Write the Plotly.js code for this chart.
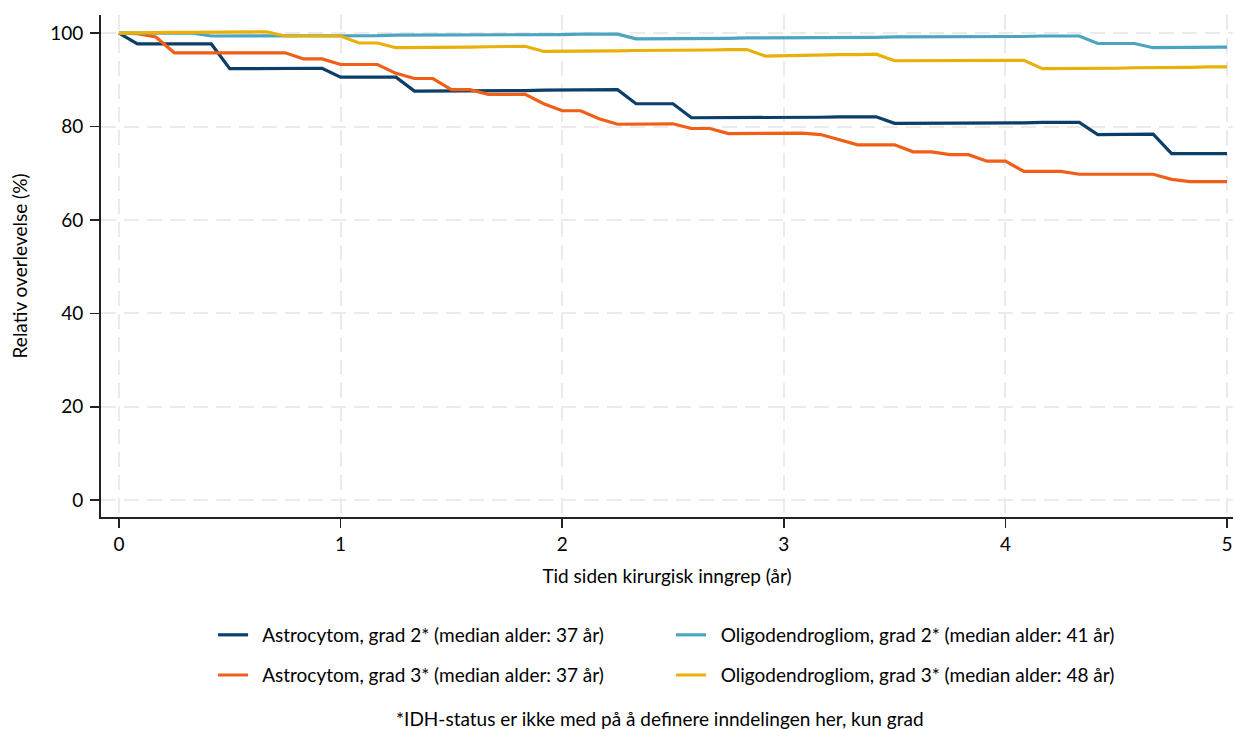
<!DOCTYPE html>
<html>
<head>
<meta charset="utf-8">
<script src="https://cdn.plot.ly/plotly-3.0.1.min.js"></script>
<style>
  html, body { margin: 0; padding: 0; background: #ffffff; }
  #chart { width: 1234px; height: 729px; }
</style>
</head>
<body>
<div id="chart"></div>
<script>
// Months since surgery (0 to 60), plotted in years
const months = [0,1,2,3,4,5,6,7,8,9,10,11,12,13,14,15,16,17,18,19,20,
  21,22,23,24,25,26,27,28,29,30,31,32,33,34,35,36,37,38,39,40,
  41,42,43,44,45,46,47,48,49,50,51,52,53,54,55,56,57,58,59,60];

// Relative survival (%) by month
const astro2 = [100,97.7,97.7,97.7,97.7,97.7,92.4,92.4,92.5,92.5,92.5,
  92.5,90.6,90.6,90.6,90.6,87.6,87.6,87.6,87.6,87.7,
  87.7,87.7,87.8,87.8,87.8,87.9,87.9,84.9,84.9,84.9,
  81.9,81.9,81.9,81.9,82.0,82.0,82.0,82.0,82.1,82.1,
  82.1,80.7,80.7,80.7,80.7,80.8,80.8,80.8,80.8,80.9,
  80.9,80.9,78.3,78.3,78.3,78.4,74.2,74.2,74.2,74.2];

const astro3 = [100,99.9,99.2,95.8,95.8,95.8,95.8,95.8,95.8,95.8,94.5,
  94.5,93.3,93.3,93.3,91.4,90.3,90.3,87.9,87.9,86.9,
  86.9,86.9,84.9,83.4,83.4,81.7,80.5,80.5,80.5,80.6,
  79.6,79.6,78.5,78.5,78.5,78.6,78.6,78.3,77.2,76.1,
  76.1,76.1,74.6,74.6,74.0,74.0,72.6,72.6,70.4,70.4,
  70.4,69.8,69.8,69.8,69.8,69.8,68.7,68.2,68.2,68.2];

const oligo2 = [100,100,100,100,100,99.4,99.4,99.4,99.4,99.5,99.5,
  99.5,99.5,99.5,99.5,99.6,99.6,99.6,99.6,99.6,99.7,
  99.7,99.7,99.7,99.7,99.8,99.8,99.8,98.8,98.8,98.9,
  98.9,98.9,98.9,99.0,99.0,99.0,99.0,99.1,99.1,99.1,
  99.1,99.2,99.2,99.2,99.2,99.3,99.3,99.3,99.3,99.4,
  99.4,99.4,97.8,97.8,97.8,96.9,96.9,96.9,97.0,97.0];

const oligo3 = [100,100.1,100.1,100.2,100.2,100.2,100.2,100.3,100.3,99.4,99.4,
  99.4,99.4,97.9,97.9,96.9,96.9,96.9,97.0,97.0,97.1,
  97.1,97.2,96.1,96.1,96.1,96.2,96.2,96.3,96.3,96.3,
  96.4,96.4,96.5,96.5,95.1,95.2,95.2,95.3,95.4,95.4,
  95.5,94.1,94.1,94.1,94.2,94.2,94.2,94.2,94.2,92.4,
  92.4,92.5,92.5,92.5,92.6,92.6,92.7,92.7,92.8,92.8];

const seriesNames = [
  'Astrocytom, grad 2* (median alder: 37 år)',
  'Astrocytom, grad 3* (median alder: 37 år)',
  'Oligodendrogliom, grad 2* (median alder: 41 år)',
  'Oligodendrogliom, grad 3* (median alder: 48 år)'
];

const xTickVals = [0, 1, 2, 3, 4, 5];
const yTickVals = [0, 20, 40, 60, 80, 100];
const footnote = '*IDH-status er ikke med på å definere inndelingen her, kun grad';

const years = months.map(m => m / 12);
const FONT = 'Lato, "Liberation Sans", Arial, sans-serif';
// a little extra room between the legend line and its label
const LEGEND_PAD = '\u00a0\u00a0';

function curve(y, name, color, legendId) {
  return {
    x: years, y: y, name: LEGEND_PAD + name, type: 'scatter', mode: 'lines',
    line: { color: color, width: 3.2 },
    legend: legendId, hoverinfo: 'skip'
  };
}

const data = [
  curve(astro2, seriesNames[0], '#0c3e6a', 'legend'),
  curve(astro3, seriesNames[1], '#ef5f17', 'legend2'),
  curve(oligo2, seriesNames[2], '#4ba5c2', 'legend'),
  curve(oligo3, seriesNames[3], '#e9b00a', 'legend2')
];

const axisCommon = {
  ticks: 'outside', ticklen: 9, tickwidth: 1.5, tickcolor: '#222',
  showline: true, linecolor: '#222', linewidth: 2,
  showgrid: true, gridcolor: '#ebebeb', gridwidth: 2, griddash: '15px,8px',
  zeroline: false, tickfont: { size: 19, color: '#000' }
};

const legendCommon = {
  orientation: 'h', xanchor: 'left', yanchor: 'middle', x: 0.099,
  entrywidth: 413, itemwidth: 30, bgcolor: 'rgba(0,0,0,0)',
  font: { family: FONT, size: 19, color: '#000' }
};

const layout = {
  width: 1234, height: 729,
  margin: { l: 101, r: 1, t: 15, b: 212 },
  paper_bgcolor: '#ffffff', plot_bgcolor: '#ffffff',
  font: { family: FONT, size: 19, color: '#000' },
  showlegend: true,
  xaxis: Object.assign({}, axisCommon, {
    range: [-0.081, 5.027], tickvals: xTickVals,
    title: { text: 'Tid siden kirurgisk inngrep (år)', standoff: 16, font: { size: 19 } }
  }),
  yaxis: Object.assign({}, axisCommon, {
    range: [-3.6, 103.9], tickvals: yTickVals, ticklabelstandoff: 3,
    title: { text: 'Relativ overlevelse (%)', standoff: 17, font: { size: 19 } }
  }),
  legend: Object.assign({}, legendCommon, { y: -0.235 }),
  legend2: Object.assign({}, legendCommon, { y: -0.315 }),
  annotations: [{
    text: footnote, xref: 'paper', yref: 'paper', x: 0.494, y: -0.402,
    xanchor: 'center', yanchor: 'middle', showarrow: false,
    font: { family: FONT, size: 19, color: '#000' }
  }]
};

Plotly.newPlot('chart', data, layout, { displayModeBar: false, staticPlot: true });
</script>
</body>
</html>
